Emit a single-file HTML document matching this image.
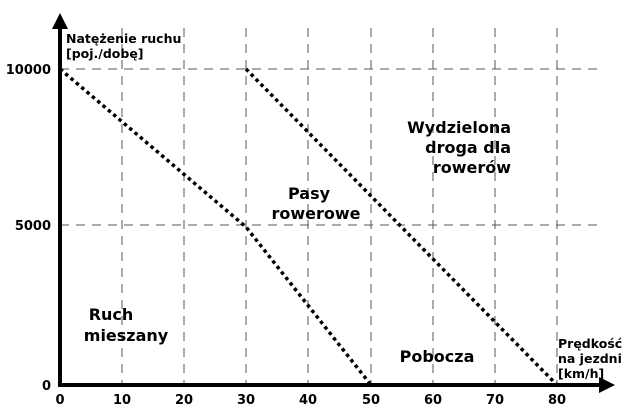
<!DOCTYPE html>
<html><head><style>body{margin:0;background:#fff}svg{display:block}text{font-family:"DejaVu Sans",sans-serif;font-weight:bold;fill:#000}</style></head><body>
<svg width="640" height="420" viewBox="0 0 640 420">
<g stroke="#555" stroke-width="1" stroke-dasharray="9,7">
<line x1="122" y1="28" x2="122" y2="385"/>
<line x1="184" y1="28" x2="184" y2="385"/>
<line x1="246" y1="28" x2="246" y2="385"/>
<line x1="308" y1="28" x2="308" y2="385"/>
<line x1="371" y1="28" x2="371" y2="385"/>
<line x1="433" y1="28" x2="433" y2="385"/>
<line x1="495" y1="28" x2="495" y2="385"/>
<line x1="557" y1="28" x2="557" y2="385"/>
<line x1="60" y1="69" x2="597" y2="69"/>
<line x1="60" y1="225" x2="597" y2="225"/>
</g>
<g stroke="#000" stroke-width="3.5" stroke-dasharray="3.5,3.5" fill="none">
<polyline points="60,69 246,227 371,385"/>
<line x1="246" y1="69" x2="557" y2="385"/>
</g>
<line x1="60" y1="386" x2="60" y2="28" stroke="#000" stroke-width="4"/>
<polygon points="60,13 52,29 68,29" fill="#000"/>
<line x1="58" y1="385" x2="600" y2="385" stroke="#000" stroke-width="4"/>
<polygon points="615,385 599,377 599,393" fill="#000"/>
<g font-size="13" text-anchor="middle">
<text x="60" y="404">0</text><text x="122" y="404">10</text><text x="184" y="404">20</text><text x="246" y="404">30</text><text x="308" y="404">40</text><text x="371" y="404">50</text><text x="433" y="404">60</text><text x="495" y="404">70</text><text x="557" y="404">80</text>
</g>
<g font-size="13" text-anchor="end">
<text x="51" y="74">10000</text><text x="51" y="230">5000</text><text x="51" y="390">0</text>
</g>
<g font-size="12.5"><text x="66" y="43">Natężenie ruchu</text><text x="66" y="58">[poj./dobę]</text>
<text x="558" y="348">Prędkość</text><text x="558" y="363">na jezdni</text><text x="558" y="378">[km/h]</text></g>
<g font-size="16" text-anchor="middle">
<text x="111" y="320">Ruch</text><text x="126" y="341">mieszany</text>
<text x="309" y="199">Pasy</text><text x="316" y="219">rowerowe</text>
<text x="437" y="362">Pobocza</text>
</g>
<g font-size="16" text-anchor="end">
<text x="511" y="133">Wydzielona</text><text x="511" y="153">droga dla</text><text x="511" y="173">rowerów</text>
</g>
</svg>
</body></html>
